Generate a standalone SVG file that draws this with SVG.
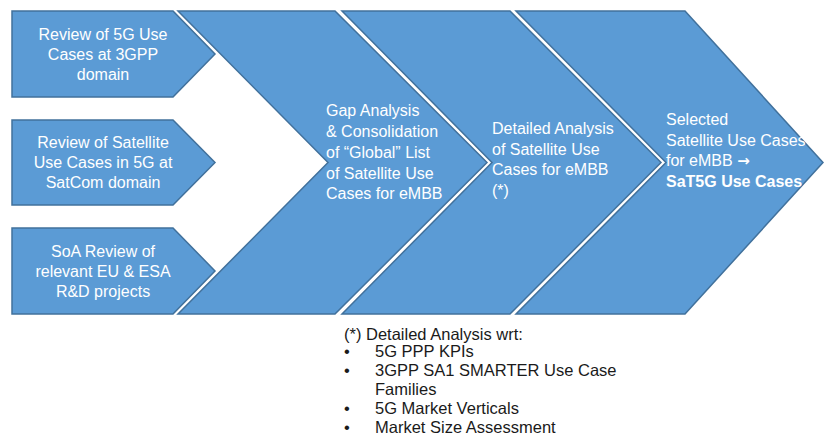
<svg xmlns="http://www.w3.org/2000/svg" width="825" height="439" viewBox="0 0 825 439">
<style>
.shape{fill:#5b9bd5;stroke:#41719c;stroke-width:1.5;stroke-linejoin:miter}
.t{font-family:"Liberation Sans",Arial,sans-serif;font-size:16px;fill:#ffffff}
.c{text-anchor:middle}
.b{font-weight:bold}
.arr{font-family:"DejaVu Sans",sans-serif;font-size:15px}
.note{font-family:"Liberation Sans",Arial,sans-serif;font-size:16.5px;fill:#1a1a1a}
</style>
<rect width="825" height="439" fill="#ffffff"/>
<g id="review-3gpp">
<polygon class="shape" points="12,11 173,11 215,54 173,97 12,97"/>
<text class="t c" x="103" y="40">Review of 5G Use</text>
<text class="t c" x="103" y="60">Cases at 3GPP</text>
<text class="t c" x="103" y="80">domain</text>
</g>
<g id="review-satcom">
<polygon class="shape" points="12,120 173,120 215,162.5 173,205 12,205"/>
<text class="t c" x="103" y="148">Review of Satellite</text>
<text class="t c" x="103" y="168">Use Cases in 5G at</text>
<text class="t c" x="103" y="188">SatCom domain</text>
</g>
<g id="soa-review">
<polygon class="shape" points="12,228 173,228 215,271 173,314 12,314"/>
<text class="t c" x="103" y="257">SoA Review of</text>
<text class="t c" x="103" y="277">relevant EU &amp; ESA</text>
<text class="t c" x="103" y="297">R&amp;D projects</text>
</g>
<g id="gap-analysis">
<polygon class="shape" points="178,11 335,11 487,162.5 335,314 178,314 328,162.5"/>
<text class="t" x="326" y="116">Gap Analysis</text>
<text class="t" x="326" y="137">&amp; Consolidation</text>
<text class="t" x="326" y="158">of “Global” List</text>
<text class="t" x="326" y="179">of Satellite Use</text>
<text class="t" x="326" y="199">Cases for eMBB</text>
</g>
<g id="detailed-analysis">
<polygon class="shape" points="342,11 510,11 661,162.5 510,314 342,314 492,162.5"/>
<text class="t" x="492" y="134">Detailed Analysis</text>
<text class="t" x="492" y="155">of Satellite Use</text>
<text class="t" x="492" y="175">Cases for eMBB</text>
<text class="t" x="492" y="196">(*)</text>
</g>
<g id="selected-use-cases">
<polygon class="shape" points="516,11 685,11 823,162.5 685,314 516,314 666,162.5"/>
<text class="t" x="666" y="125">Selected</text>
<text class="t" x="666" y="146">Satellite Use Cases</text>
<text class="t" x="666" y="166">for eMBB <tspan class="arr b">→</tspan></text>
<text class="t b" x="666" y="187">SaT5G Use Cases</text>
</g>
<g id="connectors"></g>
<g id="note">
<text class="note" x="344" y="340">(*) Detailed Analysis wrt:</text>
<text class="note" x="344" y="357">•</text><text class="note" x="375" y="357">5G PPP KPIs</text>
<text class="note" x="344" y="376">•</text><text class="note" x="375" y="376">3GPP SA1 SMARTER Use Case</text>
<text class="note" x="375" y="395">Families</text>
<text class="note" x="344" y="414">•</text><text class="note" x="375" y="414">5G Market Verticals</text>
<text class="note" x="344" y="433">•</text><text class="note" x="375" y="433">Market Size Assessment</text>
</g>
</svg>
